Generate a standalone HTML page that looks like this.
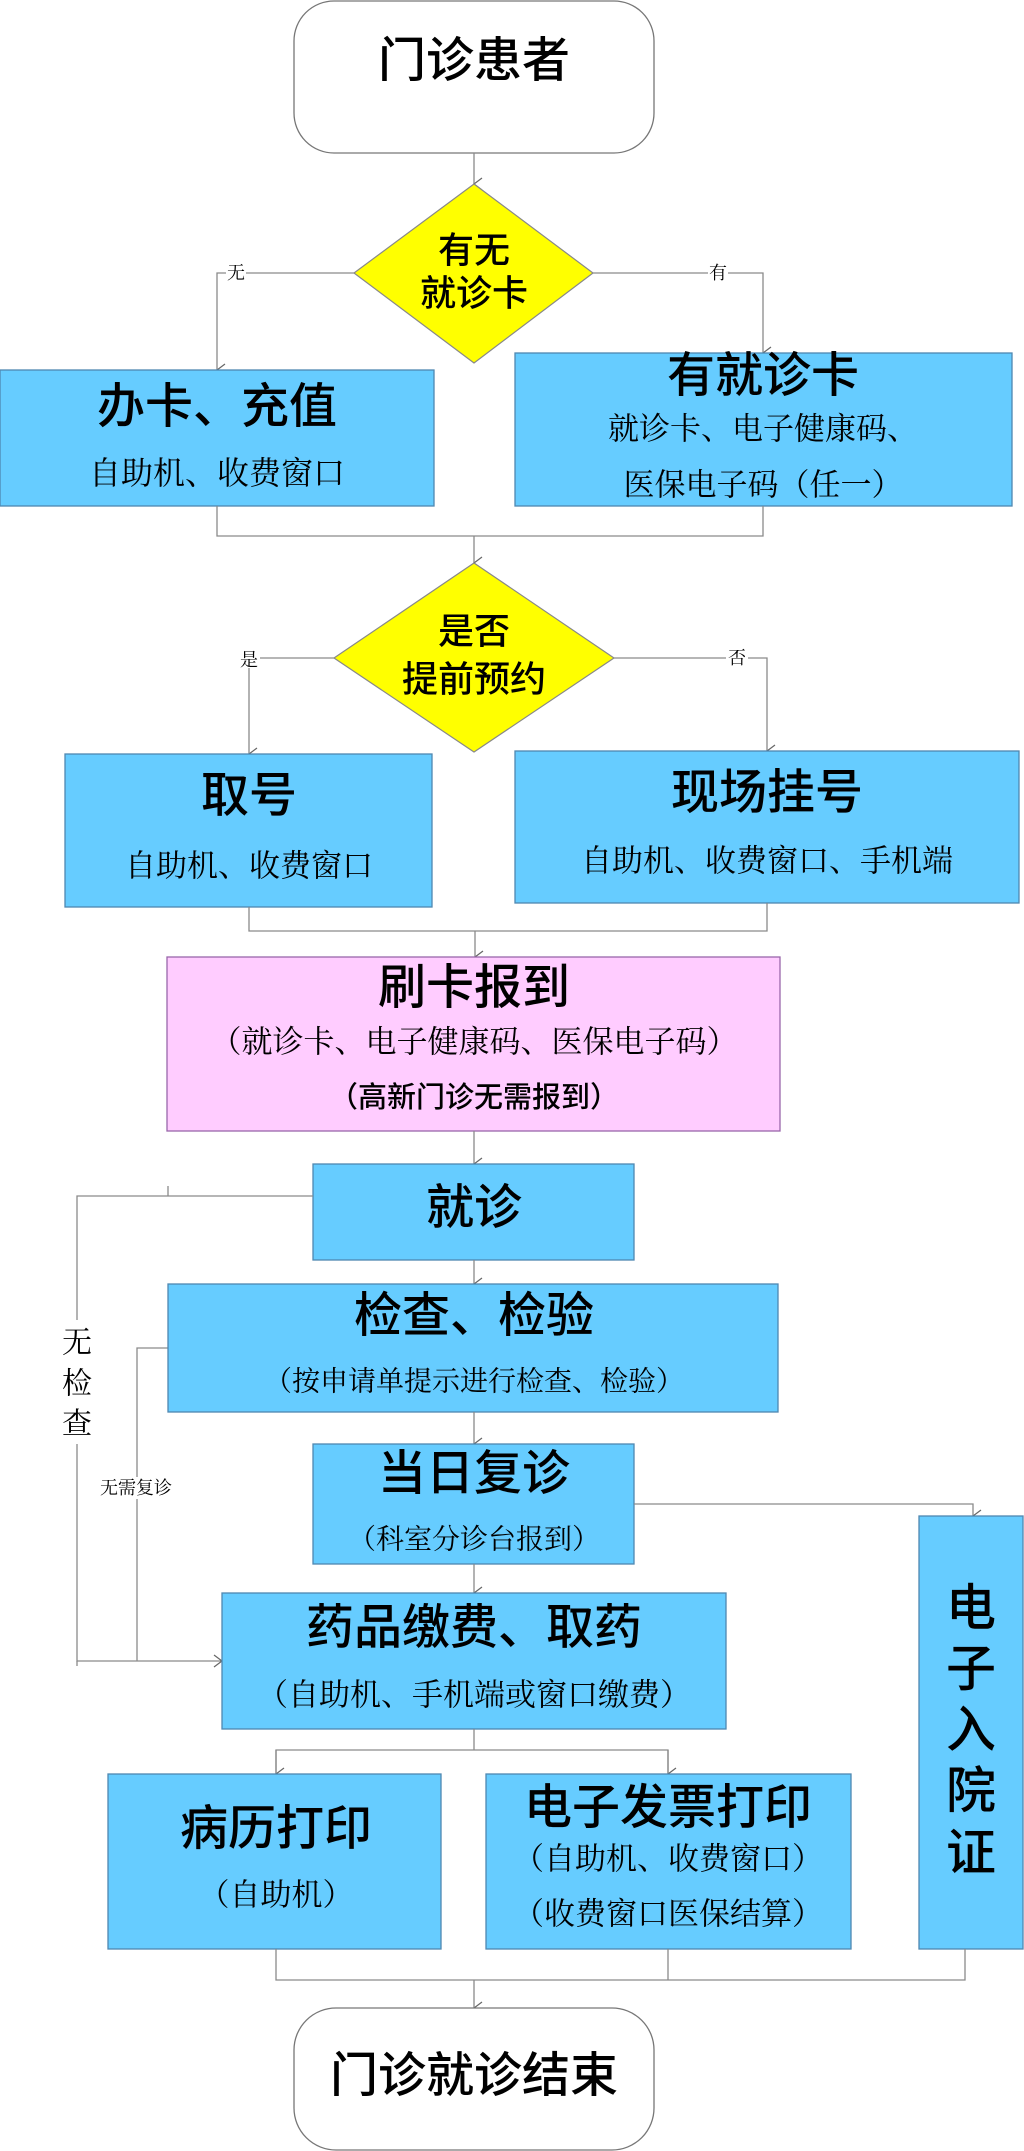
<!DOCTYPE html>
<html><head><meta charset="utf-8"><style>
html,body{margin:0;padding:0;background:#fff;}
svg{display:block;}
.t{font-family:"Liberation Sans","Noto Sans CJK SC",sans-serif;font-weight:500;fill:#000;text-anchor:middle;dominant-baseline:central;}
.s{font-family:"Liberation Serif","Noto Serif CJK SC",serif;fill:#000;text-anchor:middle;dominant-baseline:central;}
.b{fill:#66ccff;stroke:#4f87b0;stroke-width:1.3;}
.l{fill:none;stroke:#8a8a8a;stroke-width:1.3;}
</style></head><body>
<svg width="1024" height="2151" viewBox="0 0 1024 2151" xmlns="http://www.w3.org/2000/svg">
<defs>
<marker id="a" markerWidth="14" markerHeight="14" refX="7" refY="13" orient="auto" markerUnits="userSpaceOnUse">
<polyline points="1,5 7,13 13,5" fill="none" stroke="#666" stroke-width="1.2"/></marker>
<marker id="ar" markerWidth="14" markerHeight="14" refX="13" refY="7" orient="0" markerUnits="userSpaceOnUse">
<polyline points="5,1 13,7 5,13" fill="none" stroke="#666" stroke-width="1.2"/></marker>
</defs>

<!-- start -->
<rect x="294" y="1" width="360" height="152" rx="40" fill="#fff" stroke="#777" stroke-width="1.3"/>
<text class="t" x="474" y="61" font-size="48">门诊患者</text>
<line class="l" x1="474" y1="153" x2="474" y2="184" marker-end="url(#a)"/>

<!-- diamond1 -->
<polygon points="474,184 593,273 474,363 354,273" fill="#ffff00" stroke="#888" stroke-width="1.2"/>
<text class="t" x="474" y="250" font-size="36">有无</text>
<text class="t" x="474" y="293" font-size="36">就诊卡</text>
<polyline class="l" points="354,273 217,273 217,370" marker-end="url(#a)"/>
<polyline class="l" points="593,273 763,273 763,353" marker-end="url(#a)"/>
<rect x="226" y="263" width="20" height="20" fill="#fff"/>
<text class="s" x="236" y="273" font-size="18">无</text>
<rect x="708" y="263" width="20" height="20" fill="#fff"/>
<text class="s" x="718" y="273" font-size="18">有</text>

<rect class="b" x="0" y="370" width="434" height="136"/>
<text class="t" x="217" y="407" font-size="48">办卡、充值</text>
<text class="s" x="217" y="473" font-size="32">自助机、收费窗口</text>

<rect class="b" x="515" y="353" width="497" height="153"/>
<text class="t" x="763" y="376" font-size="48">有就诊卡</text>
<text class="s" x="763" y="429" font-size="31">就诊卡、电子健康码、</text>
<text class="s" x="763" y="485" font-size="31">医保电子码（任一）</text>

<polyline class="l" points="217,506 217,536 763,536 763,506"/>
<line class="l" x1="474" y1="536" x2="474" y2="563" marker-end="url(#a)"/>

<!-- diamond2 -->
<polygon points="474,563 614,658 474,752 334,658" fill="#ffff00" stroke="#888" stroke-width="1.2"/>
<text class="t" x="474" y="631" font-size="36">是否</text>
<text class="t" x="474" y="679" font-size="36">提前预约</text>
<polyline class="l" points="334,658 249,658 249,754" marker-end="url(#a)"/>
<polyline class="l" points="614,658 767,658 767,751" marker-end="url(#a)"/>
<rect x="238" y="648" width="22" height="20" fill="#fff"/>
<text class="s" x="249" y="660" font-size="18">是</text>
<rect x="726" y="648" width="22" height="20" fill="#fff"/>
<text class="s" x="737" y="658" font-size="18">否</text>

<rect class="b" x="65" y="754" width="367" height="153"/>
<text class="t" x="249" y="796" font-size="48">取号</text>
<text class="s" x="249" y="866" font-size="31">自助机、收费窗口</text>

<rect class="b" x="515" y="751" width="504" height="152"/>
<text class="t" x="767" y="793" font-size="48">现场挂号</text>
<text class="s" x="767" y="861" font-size="31">自助机、收费窗口、手机端</text>

<polyline class="l" points="249,907 249,931 767,931 767,903"/>
<line class="l" x1="475" y1="931" x2="475" y2="957" marker-end="url(#a)"/>

<rect x="167" y="957" width="613" height="174" fill="#ffccff" stroke="#9966aa" stroke-width="1.3"/>
<text class="t" x="474" y="988" font-size="48">刷卡报到</text>
<text class="s" x="474" y="1042" font-size="31">（就诊卡、电子健康码、医保电子码）</text>
<text class="t" x="474" y="1098" font-size="29">（高新门诊无需报到）</text>
<line class="l" x1="474" y1="1131" x2="474" y2="1164" marker-end="url(#a)"/>

<rect class="b" x="313" y="1164" width="321" height="96"/>
<text class="t" x="474" y="1208" font-size="48">就诊</text>
<line class="l" x1="474" y1="1260" x2="474" y2="1284" marker-end="url(#a)"/>

<!-- left bypass lines -->
<polyline class="l" points="313,1196 77,1196 77,1661 222,1661" marker-end="url(#ar)"/>
<line class="l" x1="168" y1="1186" x2="168" y2="1196"/>
<line class="l" x1="77" y1="1661" x2="77" y2="1666"/>
<rect x="60" y="1320" width="34" height="124" fill="#fff"/>
<text class="s" x="77" y="1343" font-size="30">无</text>
<text class="s" x="77" y="1384" font-size="30">检</text>
<text class="s" x="77" y="1424" font-size="30">查</text>
<polyline class="l" points="168,1348 137,1348 137,1661"/>
<rect x="91" y="1477" width="90" height="22" fill="#fff"/>
<text class="s" x="136" y="1488" font-size="18">无需复诊</text>

<rect class="b" x="168" y="1284" width="610" height="128"/>
<text class="t" x="474" y="1316" font-size="48">检查、检验</text>
<text class="s" x="474" y="1382" font-size="28">（按申请单提示进行检查、检验）</text>
<line class="l" x1="474" y1="1412" x2="474" y2="1444" marker-end="url(#a)"/>

<rect class="b" x="313" y="1444" width="321" height="120"/>
<text class="t" x="474" y="1474" font-size="48">当日复诊</text>
<text class="s" x="474" y="1540" font-size="28">（科室分诊台报到）</text>
<polyline class="l" points="634,1504 973,1504 973,1516" marker-end="url(#a)"/>
<line class="l" x1="474" y1="1564" x2="474" y2="1593" marker-end="url(#a)"/>

<rect class="b" x="919" y="1516" width="104" height="433"/>
<text class="t" x="971" y="1608" font-size="50">电</text>
<text class="t" x="971" y="1669" font-size="50">子</text>
<text class="t" x="971" y="1730" font-size="50">入</text>
<text class="t" x="971" y="1791" font-size="50">院</text>
<text class="t" x="971" y="1853" font-size="50">证</text>

<rect class="b" x="222" y="1593" width="504" height="136"/>
<text class="t" x="474" y="1628" font-size="48">药品缴费、取药</text>
<text class="s" x="474" y="1695" font-size="31">（自助机、手机端或窗口缴费）</text>

<polyline class="l" points="474,1729 474,1750"/>
<polyline class="l" points="276,1774 276,1750 668,1750 668,1774"/>
<line class="l" x1="276" y1="1750" x2="276" y2="1774" marker-end="url(#a)"/>
<line class="l" x1="668" y1="1750" x2="668" y2="1774" marker-end="url(#a)"/>

<rect class="b" x="108" y="1774" width="333" height="175"/>
<text class="t" x="276" y="1829" font-size="48">病历打印</text>
<text class="s" x="276" y="1895" font-size="31">（自助机）</text>

<rect class="b" x="486" y="1774" width="365" height="175"/>
<text class="t" x="668" y="1808" font-size="48">电子发票打印</text>
<text class="s" x="668" y="1859" font-size="31">（自助机、收费窗口）</text>
<text class="s" x="668" y="1914" font-size="31">（收费窗口医保结算）</text>

<polyline class="l" points="276,1949 276,1980 965,1980 965,1949"/>
<line class="l" x1="668" y1="1949" x2="668" y2="1980"/>
<line class="l" x1="474" y1="1980" x2="474" y2="2008" marker-end="url(#a)"/>

<rect x="294" y="2008" width="360" height="142" rx="42" fill="#fff" stroke="#777" stroke-width="1.3"/>
<text class="t" x="474" y="2076" font-size="48">门诊就诊结束</text>
</svg>
</body></html>
